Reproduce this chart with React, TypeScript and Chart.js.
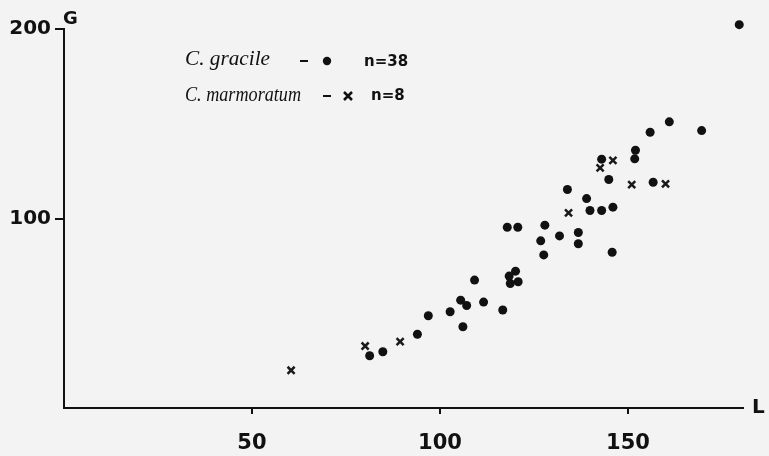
import React, { useEffect, useRef } from "react";
import { Chart, registerables } from "chart.js";

Chart.register(...registerables);

// C. gracile (dots), n = 38
const gracileL = [
  179.6, 161.0, 155.9, 169.6, 152.0, 151.8, 143.0, 144.9, 156.7, 133.9,
  139.0, 139.9, 143.0, 146.0, 117.9, 120.7, 127.9, 126.8, 131.8, 136.8,
  136.8, 127.6, 145.8, 120.1, 118.4, 118.7, 120.8, 109.2, 105.5, 107.1,
  111.6, 116.7, 102.7, 106.1, 96.9, 94.0, 84.8, 81.3,
];
const gracileG = [
  202.3, 151.0, 145.5, 146.4, 136.0, 131.5, 131.3, 120.6, 119.1, 115.3,
  110.5, 104.2, 104.2, 106.0, 95.4, 95.4, 96.5, 88.2, 90.8, 92.6,
  86.7, 80.8, 82.2, 72.2, 69.6, 65.7, 66.6, 67.5, 56.9, 54.1,
  55.9, 51.7, 50.8, 42.9, 48.7, 38.9, 29.7, 27.6,
];

// C. marmoratum (crosses), n = 8
const marmoratumL = [60.4, 80.1, 89.4, 134.2, 142.6, 146.0, 151.0, 160.0];
const marmoratumG = [19.9, 32.7, 35.0, 103.0, 126.7, 130.7, 117.9, 118.3];

const xTickValues = [50, 100, 150];
const yTickValues = [100, 200];
const xAxisTitle = "L";
const yAxisTitle = "G";
const legendNames = ["C. gracile", "C. marmoratum"];
const legendCounts = ["n=38", "n=8"];

const INK = "#111111";
const BG = "#f3f3f3";

function toPoints(xs: number[], ys: number[]) {
  return xs.map((x, i) => ({ x, y: ys[i] }));
}

function fitText(
  ctx: CanvasRenderingContext2D,
  text: string,
  x: number,
  y: number,
  targetWidth: number
) {
  const w = ctx.measureText(text).width;
  const k = w > 0 ? targetWidth / w : 1;
  ctx.save();
  ctx.translate(x, y);
  ctx.scale(k, 1);
  ctx.fillText(text, 0, 0);
  ctx.restore();
}

const overlayPlugin = {
  id: "overlay",
  afterDraw(chart: any) {
    const ctx = chart.ctx as CanvasRenderingContext2D;
    ctx.save();
    ctx.fillStyle = INK;
    ctx.strokeStyle = INK;
    ctx.textAlign = "left";
    ctx.textBaseline = "alphabetic";

    // axis titles
    ctx.font = 'bold 18px "DejaVu Sans"';
    ctx.fillText(yAxisTitle, 63, 24);
    ctx.font = 'bold 20px "DejaVu Sans"';
    ctx.fillText(xAxisTitle, 752, 413);

    // legend row 1
    ctx.font = 'italic 21px "Liberation Serif"';
    fitText(ctx, legendNames[0], 185, 65, 85);
    ctx.lineWidth = 2;
    ctx.beginPath();
    ctx.moveTo(300, 61);
    ctx.lineTo(308, 61);
    ctx.stroke();
    ctx.beginPath();
    ctx.arc(327, 61, 4.2, 0, Math.PI * 2);
    ctx.fill();
    ctx.font = 'bold 15px "DejaVu Sans"';
    ctx.textBaseline = "middle";
    ctx.fillText(legendCounts[0], 364, 62);

    // legend row 2
    ctx.textBaseline = "alphabetic";
    ctx.font = 'italic 21px "Liberation Serif"';
    fitText(ctx, legendNames[1], 185, 101, 116);
    ctx.lineWidth = 2;
    ctx.beginPath();
    ctx.moveTo(323, 96);
    ctx.lineTo(331, 96);
    ctx.stroke();
    ctx.lineWidth = 2.5;
    ctx.beginPath();
    ctx.moveTo(344, 92);
    ctx.lineTo(352, 100);
    ctx.moveTo(352, 92);
    ctx.lineTo(344, 100);
    ctx.stroke();
    ctx.font = 'bold 15px "DejaVu Sans"';
    ctx.textBaseline = "middle";
    ctx.fillText(legendCounts[1], 371, 96);
    ctx.restore();
  },
};

export default function App() {
  const canvasRef = useRef<HTMLCanvasElement | null>(null);

  useEffect(() => {
    document.body.style.margin = "0";
    document.body.style.background = BG;
    const canvas = canvasRef.current;
    if (!canvas) return;
    const chart = new Chart(canvas, {
      type: "scatter",
      data: {
        datasets: [
          {
            label: legendNames[0],
            data: toPoints(gracileL, gracileG),
            pointStyle: "circle",
            pointRadius: 4.5,
            pointBackgroundColor: INK,
            pointBorderColor: INK,
            pointBorderWidth: 0,
            clip: false,
          },
          {
            label: legendNames[1],
            data: toPoints(marmoratumL, marmoratumG),
            pointStyle: "crossRot",
            pointRadius: 5,
            pointBorderColor: "#1a1a1a",
            pointBorderWidth: 2.5,
            clip: false,
          },
        ] as any,
      },
      options: {
        animation: false,
        responsive: false,
        devicePixelRatio: 1,
        layout: { padding: { top: 29, right: 26, left: 0, bottom: 0 } },
        plugins: {
          legend: { display: false },
          tooltip: { enabled: false },
        },
        scales: {
          x: {
            type: "linear",
            min: 0,
            max: 180.6,
            afterBuildTicks: (s: any) => {
              s.ticks = xTickValues.map((v) => ({ value: v }));
            },
            afterFit: (s: any) => {
              s.height = 48;
            },
            ticks: {
              color: INK,
              font: { family: "DejaVu Sans", size: 21, weight: "bold" },
              padding: 17,
              maxRotation: 0,
              autoSkip: false,
            },
            grid: {
              drawOnChartArea: false,
              drawTicks: true,
              tickLength: 6,
              color: INK,
              lineWidth: 2,
            },
            border: { display: true, color: INK, width: 2 },
          },
          y: {
            type: "linear",
            min: 0,
            max: 200,
            afterBuildTicks: (s: any) => {
              s.ticks = yTickValues.map((v) => ({ value: v }));
            },
            afterFit: (s: any) => {
              s.width = 64;
            },
            ticks: {
              color: INK,
              font: { family: "DejaVu Sans", size: 20, weight: "bold" },
              padding: 4,
              autoSkip: false,
            },
            grid: {
              drawOnChartArea: false,
              drawTicks: true,
              tickLength: 9,
              color: INK,
              lineWidth: 2,
            },
            border: { display: true, color: INK, width: 2 },
          },
        },
      } as any,
      plugins: [overlayPlugin],
    });
    return () => chart.destroy();
  }, []);

  return (
    <div
      style={{
        position: "fixed",
        left: 0,
        top: 0,
        width: 769,
        height: 456,
        background: BG,
      }}
    >
      <canvas
        ref={canvasRef}
        width={769}
        height={456}
        style={{ width: 769, height: 456, display: "block" }}
      />
    </div>
  );
}
